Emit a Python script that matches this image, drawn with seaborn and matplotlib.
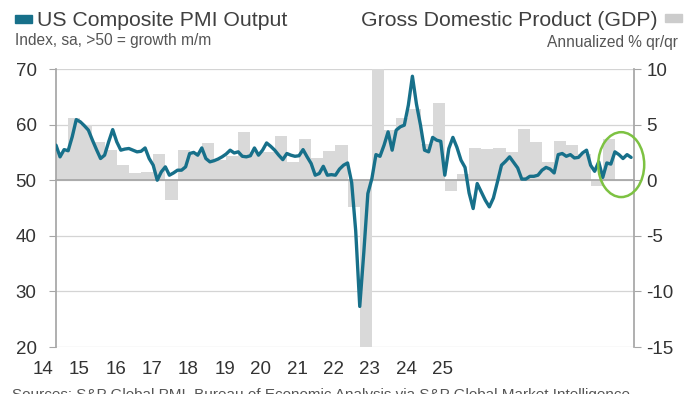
import matplotlib
matplotlib.use("Agg")
import matplotlib.pyplot as plt
from matplotlib.patches import Ellipse, Rectangle
import seaborn as sns
import numpy as np

# US Composite PMI Output, monthly, Jan 2014 - Nov 2025
pmi_2014 = [56.3, 54.2, 55.5, 55.3, 57.8, 60.9, 60.5, 59.8, 59.0, 57.2, 55.5, 53.9]
pmi_2015 = [54.5, 56.9, 59.1, 56.9, 55.4, 55.6, 55.7, 55.4, 55.1, 55.2, 55.8, 53.9]
pmi_2016 = [52.7, 50.0, 51.5, 52.4, 50.9, 51.3, 51.8, 51.8, 52.4, 54.8, 55.0, 54.5]
pmi_2017 = [55.8, 53.9, 53.3, 53.5, 53.8, 54.2, 54.7, 55.4, 54.9, 55.1, 54.3, 54.2]
pmi_2018 = [54.4, 55.8, 54.5, 55.4, 56.7, 56.1, 55.4, 54.5, 53.7, 54.8, 54.5, 54.3]
pmi_2019 = [54.4, 55.5, 54.2, 53.0, 50.9, 51.2, 52.5, 50.9, 51.0, 50.9, 52.0, 52.7]
pmi_2020 = [53.1, 49.6, 40.9, 27.3, 37.0, 47.6, 50.3, 54.6, 54.3, 56.3, 58.7, 55.4]
pmi_2021 = [59.0, 59.6, 59.9, 63.5, 68.7, 63.7, 59.9, 55.4, 55.1, 57.7, 57.2, 57.0]
pmi_2022 = [50.9, 55.7, 57.7, 55.9, 53.6, 52.3, 47.7, 44.9, 49.4, 47.9, 46.4, 45.2]
pmi_2023 = [46.8, 49.7, 52.7, 53.4, 54.2, 53.2, 52.2, 50.2, 50.2, 50.7, 50.7, 50.9]
pmi_2024 = [51.8, 52.3, 52.0, 51.3, 54.6, 54.8, 54.3, 54.6, 54.0, 54.1, 54.9, 55.4]
pmi_2025 = [52.7, 51.6, 53.3, 50.5, 53.1, 52.9, 55.1, 54.6, 53.9, 54.6, 54.1]

# GDP, annualized % q/q, Q1 2014 - Q2 2025
gdp_2014 = [2.5, 5.6, 5.0, 3.4]
gdp_2015 = [2.7, 1.35, 0.66, 0.7]
gdp_2016 = [2.4, -1.8, 2.7, 2.5]
gdp_2017 = [3.35, 1.8, 2.2, 4.3]
gdp_2018 = [2.5, 2.5, 3.95, 1.6]
gdp_2019 = [3.7, 2.0, 2.6, 3.15]
gdp_2020 = [-2.4, -28.0, 34.8, 4.5]
gdp_2021 = [5.6, 6.4, 3.3, 6.95]
gdp_2022 = [-1.0, 0.6, 2.9, 2.8]
gdp_2023 = [2.9, 2.55, 4.6, 3.4]
gdp_2024 = [1.6, 3.55, 3.2, 2.4]
gdp_2025 = [-0.5, 3.75]

year_labels = ["14", "15", "16", "17", "18", "19", "20", "21", "22", "23", "24", "25"]

pmi = (pmi_2014 + pmi_2015 + pmi_2016 + pmi_2017 + pmi_2018 + pmi_2019
       + pmi_2020 + pmi_2021 + pmi_2022 + pmi_2023 + pmi_2024 + pmi_2025)
gdp = (gdp_2014 + gdp_2015 + gdp_2016 + gdp_2017 + gdp_2018 + gdp_2019
       + gdp_2020 + gdp_2021 + gdp_2022 + gdp_2023 + gdp_2024 + gdp_2025)
month_x = 2014 + np.arange(len(pmi)) / 12
quarter_x = 2014 + np.arange(len(gdp)) / 4

teal = "#17708a"
bar_grey = "#d9d9d9"
axis_grey = "#a6a6a6"

sns.set_theme(style="white")
plt.rcParams['font.family'] = ['Liberation Sans', 'DejaVu Sans']
plt.rcParams['axes.unicode_minus'] = False

fig = plt.figure(figsize=(7, 3.94), dpi=100)
ax = fig.add_axes([56 / 700, 1 - 347 / 394, 578 / 700, 278 / 394])
ax2 = ax.twinx()
ax.set_zorder(ax2.get_zorder() + 1)
ax.patch.set_visible(False)

# GDP bars (right axis)
ax2.bar(quarter_x, gdp, width=0.25, align='edge', color=bar_grey, linewidth=0, zorder=2)
ax2.set_ylim(-15, 10)
ax2.set_yticks([-15, -10, -5, 0, 5, 10])
ax2.set_axisbelow(True)
ax2.grid(axis='y', color='#d4d4d4', linewidth=0.9)
for s in ['top', 'left', 'bottom']:
    ax2.spines[s].set_visible(False)
ax2.spines['right'].set_color(axis_grey)
ax2.tick_params(axis='y', direction='out', length=5, width=0.8, color=axis_grey,
                labelsize=13.5, labelcolor='#333333', pad=4)

# PMI line (left axis)
sns.lineplot(x=month_x, y=pmi, ax=ax, color=teal, linewidth=2.4, zorder=3)
ax.set_ylim(20, 70)
ax.set_yticks([20, 30, 40, 50, 60, 70])
ax.set_xlim(2014, 2014 + 578 / 48.6)
ax.set_xticks(range(2014, 2026))
ax.set_xticklabels([])
ax.spines['top'].set_visible(False)
ax.spines['right'].set_visible(False)
ax.spines['left'].set_color(axis_grey)
ax.spines['bottom'].set_position(('data', 50))
ax.spines['bottom'].set_color(axis_grey)
ax.tick_params(axis='x', direction='out', length=4, width=0.8, color=axis_grey)
ax.tick_params(axis='y', direction='out', length=5, width=0.8, color=axis_grey,
                labelsize=13.5, labelcolor='#333333', pad=9)
ax.set_xlabel('')
ax.set_ylabel('')

# highlight ellipse around the latest readings
ax.add_patch(Ellipse((2025.63, 52.8), width=46 / 48.6, height=65 / 5.57, fill=False,
                     edgecolor='#7dc242', linewidth=1.8, clip_on=False, zorder=4))

# year labels under the plot
for i, lab in enumerate(year_labels):
    fig.text((43 + i * 36.3) / 700, 1 - 369 / 394, lab, ha='center', va='center',
             fontsize=13.5, color='#333333')

# headers
fig.add_artist(Rectangle((15 / 700, 1 - 23 / 394), 17 / 700, 8 / 394,
                         transform=fig.transFigure, color=teal))
fig.text(37 / 700, 1 - 20 / 394, "US Composite PMI Output", va='center', ha='left',
         fontsize=15.3, color='#404040')
fig.text(15 / 700, 1 - 40 / 394, "Index, sa, >50 = growth m/m", va='center', ha='left',
         fontsize=11.2, color='#555555')
fig.add_artist(Rectangle((665 / 700, 1 - 22 / 394), 17 / 700, 8 / 394,
                         transform=fig.transFigure, color='#cccccc'))
fig.text(658 / 700, 1 - 20 / 394, "Gross Domestic Product (GDP)", va='center', ha='right',
         fontsize=15.3, color='#404040')
fig.text(678 / 700, 1 - 42 / 394, "Annualized % qr/qr", va='center', ha='right',
         fontsize=11.2, color='#555555')
fig.text(12 / 700, 1 - 388 / 394,
         "Sources: S&P Global PMI, Bureau of Economic Analysis via S&P Global Market Intelligence.",
         va='top', ha='left', fontsize=11, color='#555555')

fig.savefig("out.png", dpi=100)
